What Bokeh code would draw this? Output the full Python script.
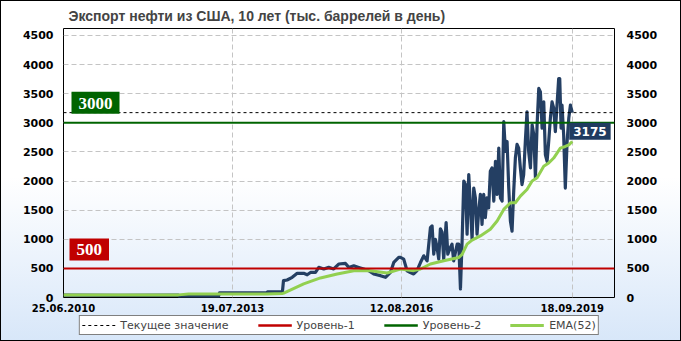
import pandas as pd
from bokeh.plotting import figure
from bokeh.layouts import column
from bokeh.models import (Range1d, LinearAxis, FixedTicker, Label, Legend,
                          LegendItem, DatetimeTickFormatter)
from bokeh.embed import file_html
from bokeh.resources import INLINE

# ---------------- data ----------------
title_text = "Экспорт нефти из США, 10 лет (тыс. баррелей в день)"

export_dates = [
    "2010-06-25", "2011-06-24", "2012-07-26", "2012-08-02", "2013-04-17", "2013-04-24",
    "2014-03-01", "2014-03-08", "2014-06-15", "2014-06-22", "2014-07-16", "2014-08-19",
    "2014-09-21", "2014-11-03", "2014-11-26", "2014-12-18", "2015-01-20", "2015-02-11",
    "2015-03-16", "2015-04-18", "2015-05-21", "2015-06-23", "2015-08-07", "2015-08-29",
    "2015-10-01", "2015-11-03", "2015-12-06", "2016-01-08", "2016-02-10", "2016-03-26",
    "2016-04-28", "2016-05-31", "2016-06-22", "2016-07-25", "2016-08-05", "2016-08-27",
    "2016-09-18", "2016-10-10", "2016-11-01", "2016-11-23", "2016-12-16", "2017-01-07",
    "2017-01-29", "2017-02-20", "2017-03-03", "2017-03-14", "2017-03-25", "2017-04-05",
    "2017-04-16", "2017-04-27", "2017-05-08", "2017-05-19", "2017-06-04", "2017-06-15",
    "2017-07-02", "2017-07-13", "2017-07-24", "2017-08-16", "2017-08-27", "2017-09-07",
    "2017-09-18", "2017-09-29", "2017-10-10", "2017-10-21", "2017-11-01", "2017-11-12",
    "2017-11-23", "2017-12-04", "2017-12-15", "2017-12-26", "2018-01-06", "2018-01-17",
    "2018-01-28", "2018-02-08", "2018-02-19", "2018-03-02", "2018-03-13", "2018-03-24",
    "2018-04-04", "2018-04-16", "2018-04-27", "2018-05-08", "2018-05-19", "2018-05-30",
    "2018-06-10", "2018-06-21", "2018-07-02", "2018-07-13", "2018-07-24", "2018-08-04",
    "2018-08-15", "2018-08-26", "2018-09-06", "2018-09-17", "2018-09-28", "2018-10-09",
    "2018-10-20", "2018-10-31", "2018-11-11", "2018-11-22", "2018-12-03", "2018-12-15",
    "2018-12-26", "2019-01-06", "2019-01-17", "2019-01-28", "2019-02-08", "2019-02-19",
    "2019-03-02", "2019-03-13", "2019-03-24", "2019-04-04", "2019-04-15", "2019-04-26",
    "2019-05-07", "2019-05-18", "2019-05-29", "2019-06-09", "2019-06-20", "2019-06-27",
    "2019-07-06", "2019-07-12", "2019-07-23", "2019-08-03", "2019-08-15", "2019-08-26",
    "2019-09-06", "2019-09-18",
]
export_kbd = [
    40, 38, 40, 15, 15, 80,
    80, 97, 97, 290, 300, 346,
    415, 415, 390, 430, 430, 517,
    490, 517, 490, 575, 585, 517,
    545, 517, 490, 460, 404, 375,
    346, 430, 602, 688, 690, 660,
    460, 430, 404, 460, 600, 716,
    630, 1200, 1230, 745, 1000, 860,
    660, 1180, 1120, 660, 1285, 745,
    860, 915, 630, 915, 915, 148,
    975, 2000, 1940, 1087, 2110, 1570,
    1000, 1880, 1710, 1087, 1485, 1770,
    1257, 1770, 1370, 1710, 1540, 2170,
    2225, 1655, 2340, 1770, 2565, 1710,
    1655, 3020, 2510, 2680, 1880, 1314,
    1140, 1825, 2395, 2630, 2565, 2225,
    1940, 2110, 2680, 3190, 2510, 2225,
    2965, 2795, 2053, 2965, 3590, 3530,
    2910, 3360, 2450, 2340, 2680, 3080,
    3360, 3250, 2850, 3305, 3760, 3760,
    2910, 3305, 2795, 1880, 2680, 3080,
    3305, 3175,
]

ema_dates = [
    "2010-06-25", "2012-07-26", "2012-10-01", "2014-03-01", "2014-06-15", "2014-06-24",
    "2014-11-03", "2015-02-22", "2015-06-13", "2015-10-01", "2016-01-19", "2016-05-09",
    "2016-08-05", "2016-11-01", "2016-12-16", "2017-02-20", "2017-05-19", "2017-08-27",
    "2017-09-18", "2017-10-21", "2017-11-23", "2018-01-17", "2018-03-24", "2018-05-08",
    "2018-06-21", "2018-08-04", "2018-09-06", "2018-10-09", "2018-11-22", "2018-12-26",
    "2019-01-28", "2019-03-13", "2019-04-15", "2019-05-18", "2019-07-01", "2019-08-03",
    "2019-08-26", "2019-09-18",
]
ema52 = [
    45, 45, 60, 62, 70, 75,
    233, 336, 404, 461, 461, 421,
    489, 461, 490, 575, 631, 688,
    740, 916, 985, 1058, 1172, 1314,
    1513, 1627, 1627, 1741, 1855, 2000,
    2057, 2253, 2310, 2395, 2565, 2594,
    2620, 2680,
]

level_1 = 500
level_2 = 3000
current_value = 3175

x_tick_dates = ["2010-06-25", "2013-07-19", "2016-08-12", "2019-09-18"]
y_ticks = [0, 500, 1000, 1500, 2000, 2500, 3000, 3500, 4000, 4500]

legend_labels = ["Текущее значение", "Уровень-1", "Уровень-2", "EMA(52)"]

# ---------------- styles ----------------
C_EXPORT = "#243f63"
C_EMA = "#92d050"
C_L1 = "#c00000"
C_L2 = "#006400"
C_CUR = "#000000"

# ---------------- main figure ----------------
x_start = pd.Timestamp("2010-06-25")
x_end = pd.Timestamp("2020-06-24")
x_start_ms = x_start.value // 10**6
x_last_ms = pd.Timestamp(export_dates[-1]).value // 10**6

p = figure(width=679, height=314, x_axis_type="datetime",
           x_range=Range1d(x_start, x_end), y_range=Range1d(0, 4620),
           output_backend="svg", toolbar_location=None,
           min_border_left=62, min_border_right=66, min_border_top=26, min_border_bottom=18)

p.border_fill_alpha = 0
p.background_fill_alpha = 0
p.outline_line_color = "#000000"
p.outline_line_width = 1
p.outline_line_alpha = 1

p.title.text = title_text
p.title.text_font = "Liberation Sans"
p.title.text_font_style = "bold"
p.title.text_font_size = "14px"
p.title.align = "left"
p.title.offset = 5
p.title.standoff = 9

# axes
tick_ms = [pd.Timestamp(d).value // 10**6 for d in x_tick_dates]
p.xaxis.ticker = FixedTicker(ticks=tick_ms)
fmt = "%d.%m.%Y"
p.xaxis.formatter = DatetimeTickFormatter(years=fmt, months=fmt, days=fmt, hours=fmt,
                                          minutes=fmt, seconds=fmt, milliseconds=fmt,
                                          microseconds=fmt, hourmin=fmt, minsec=fmt)
p.yaxis.ticker = FixedTicker(ticks=y_ticks)
right_axis = LinearAxis(ticker=FixedTicker(ticks=y_ticks))
p.add_layout(right_axis, "right")

for ax in p.axis:
    ax.axis_line_color = None
    ax.major_tick_line_color = None
    ax.minor_tick_line_color = None
    ax.major_tick_out = 0
    ax.major_tick_in = 0
    ax.major_label_text_font = "DejaVu Sans"
    ax.major_label_text_font_style = "bold"
    ax.major_label_text_font_size = "11px"
    ax.major_label_text_color = "#000000"
p.xaxis.major_label_text_font_size = "10px"
p.xaxis.major_label_standoff = 6
p.yaxis[0].major_label_standoff = 10
right_axis.major_label_standoff = 12

p.xgrid.ticker = FixedTicker(ticks=tick_ms)
for g in (p.xgrid[0], p.ygrid[0]):
    g.grid_line_color = "#c4c4c4"
    g.grid_line_dash = "5 3"
    g.grid_line_width = 1

# data lines
x_exp = pd.to_datetime(export_dates)
x_ema = pd.to_datetime(ema_dates)
p.line(x_exp, export_kbd, line_color=C_EXPORT, line_width=3.2, line_join="round")
p.line(x_ema, ema52, line_color=C_EMA, line_width=3, line_join="round")

# level lines (span the full x range)
p.line([x_start, x_end], [level_1, level_1], line_color=C_L1, line_width=2)
p.line([x_start, x_end], [level_2, level_2], line_color=C_L2, line_width=2)
p.line([x_start, x_end], [current_value, current_value], line_color=C_CUR,
       line_width=1, line_dash="3 3")

# value labels
lbl2 = Label(x=x_start_ms, y=level_2, x_offset=8, y_offset=9, text=str(level_2),
             text_color="white", text_font="Liberation Serif", text_font_style="bold",
             text_font_size="17px", text_baseline="bottom",
             background_fill_color=C_L2, padding=dict(left=7, right=7, top=6, bottom=5))
lbl1 = Label(x=x_start_ms, y=level_1, x_offset=6, y_offset=8, text=str(level_1),
             text_color="white", text_font="Liberation Serif", text_font_style="bold",
             text_font_size="17px", text_baseline="bottom",
             background_fill_color=C_L1, padding=dict(left=7, right=7, top=6, bottom=5))
lblc = Label(x=x_last_ms, y=current_value, x_offset=-3, y_offset=-10,
             text=str(current_value), text_color="white", text_font="DejaVu Sans",
             text_font_style="bold", text_font_size="12px", text_baseline="top",
             background_fill_color="#1f3b60", padding=dict(left=4, right=4, top=4, bottom=4))
for l in (lbl2, lbl1, lblc):
    p.add_layout(l)

# ---------------- legend strip ----------------
p2 = figure(width=679, height=25, x_range=Range1d(0, 1), y_range=Range1d(0, 1),
            output_backend="svg", toolbar_location=None,
            x_axis_location=None, y_axis_location=None, min_border=0)
p2.grid.visible = False
p2.outline_line_color = None
p2.border_fill_alpha = 0
p2.background_fill_alpha = 0

# legend proxies (kept outside the visible range of the legend strip)
proxy_x = [-2, -1]
proxy_y = [-2, -1]
g_cur = p2.line(proxy_x, proxy_y, line_color=C_CUR, line_width=1, line_dash="3 3")
g_l1 = p2.line(proxy_x, proxy_y, line_color=C_L1, line_width=2.5)
g_l2 = p2.line(proxy_x, proxy_y, line_color=C_L2, line_width=2.5)
g_ema = p2.line(proxy_x, proxy_y, line_color=C_EMA, line_width=3)

legend = Legend(items=[LegendItem(label=legend_labels[0], renderers=[g_cur]),
                       LegendItem(label=legend_labels[1], renderers=[g_l1]),
                       LegendItem(label=legend_labels[2], renderers=[g_l2]),
                       LegendItem(label=legend_labels[3], renderers=[g_ema])],
                orientation="horizontal", location="top_center")
legend.border_line_color = "#000000"
legend.border_line_width = 1
legend.background_fill_color = "#ffffff"
legend.background_fill_alpha = 1
legend.label_text_font = "DejaVu Sans"
legend.label_text_font_size = "11px"
legend.glyph_width = 34
legend.glyph_height = 14
legend.label_height = 14
legend.label_standoff = 5
legend.spacing = 29
legend.padding = 2
legend.margin = 0
p2.add_layout(legend)

layout = column(p, p2, spacing=0)
layout.styles = {"border": "1px solid #000000",
                 "background": "linear-gradient(180deg, #ffffff 0%, #ffffff 52%, #d8e7f9 100%)"}

open("out.html", "w").write(file_html(layout, INLINE))
